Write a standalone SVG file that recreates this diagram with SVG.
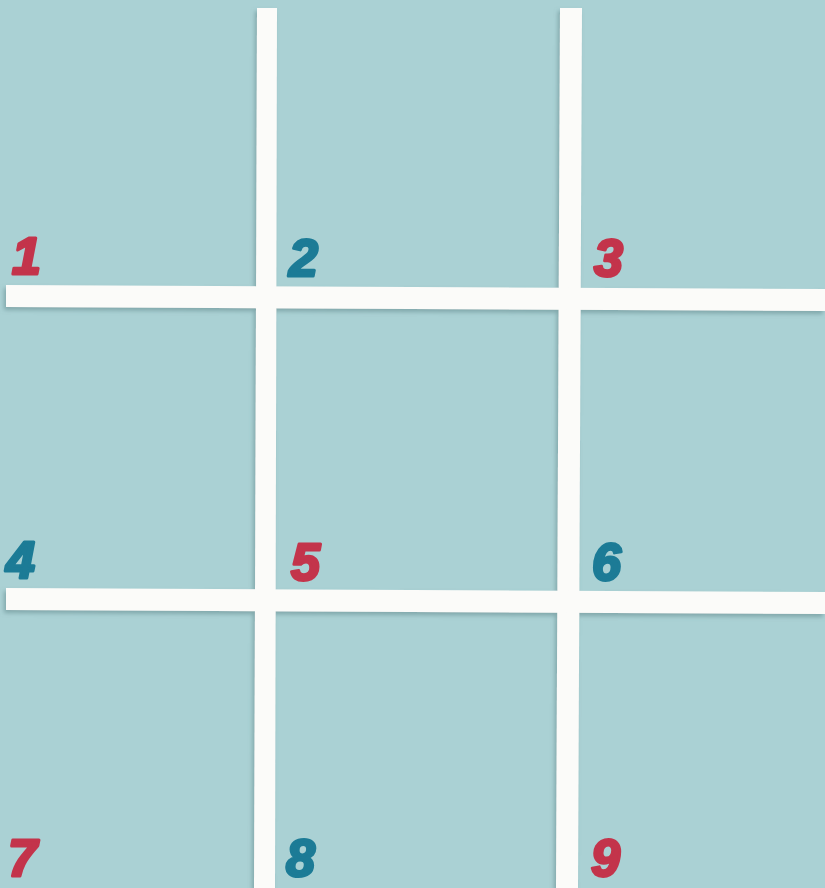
<svg xmlns="http://www.w3.org/2000/svg" width="825" height="888" viewBox="0 0 825 888">
<defs>
<filter id="sh" x="-5%" y="-5%" width="110%" height="110%">
<feDropShadow dx="-2" dy="3" stdDeviation="2" flood-color="#5f8588" flood-opacity="0.55"/>
</filter>
<style>
.bg{fill:#aad1d4}
.line{fill:#fbfbf9}
.num{font-family:"Liberation Sans","DejaVu Sans",sans-serif;font-weight:bold;font-style:italic;font-size:52px;stroke-width:3;stroke-linejoin:round}
.red{fill:#c3344b;stroke:#c3344b}
.blue{fill:#1c7b96;stroke:#1c7b96}
</style>
</defs>
<rect class="bg" x="0" y="0" width="825" height="888"/>
<g id="grid" filter="url(#sh)">
<polygon class="line" points="257,8 277,8 275,888 254,888"/>
<polygon class="line" points="560,8 582,8 578,888 556,888"/>
<polygon class="line" points="6,285 825,289 825,311 6,307"/>
<polygon class="line" points="6,588 825,592 825,614 6,610"/>
</g>
<g id="n1"><text class="num red" x="12" y="274">1</text></g>
<g id="n2"><text class="num blue" x="289" y="276">2</text></g>
<g id="n3"><text class="num red" x="594" y="276">3</text></g>
<g id="n4"><text class="num blue" x="6" y="578">4</text></g>
<g id="n5"><text class="num red" x="291" y="580">5</text></g>
<g id="n6"><text class="num blue" x="592" y="580">6</text></g>
<g id="n7"><text class="num red" x="8" y="876">7</text></g>
<g id="n8"><text class="num blue" x="286" y="876">8</text></g>
<g id="n9"><text class="num red" x="591" y="876">9</text></g>
</svg>
